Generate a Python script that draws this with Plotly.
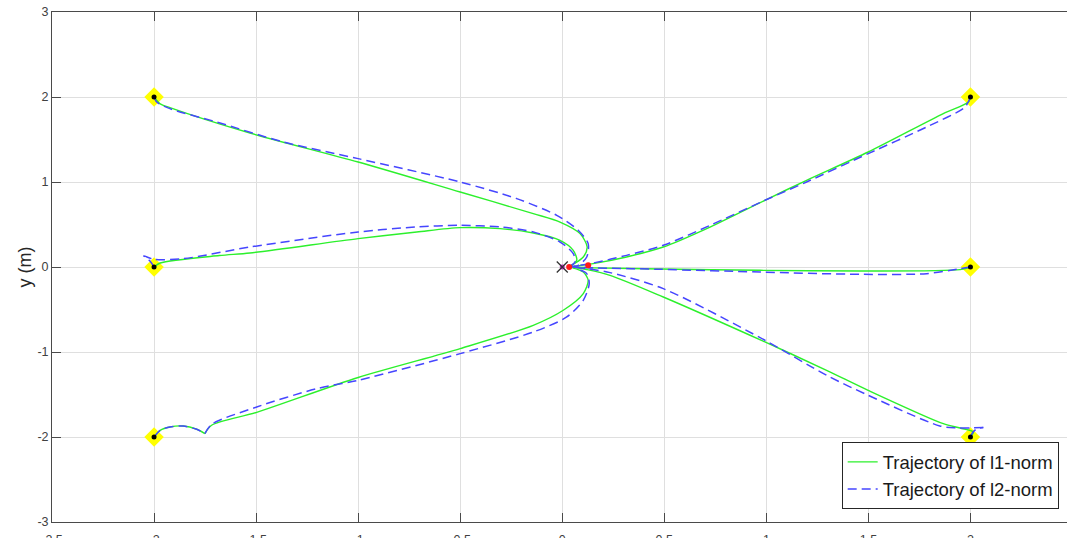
import plotly.graph_objects as go

# ---------------- data ----------------
# Agent A: starts at (-2, 2)
A_l1_x = [-2.0, -1.97, -1.922, -1.53, -1.0, -0.5, -0.142, -0.011, 0.087, 0.122, 0.103, 0.054, 0.034]
A_l1_y = [2.0, 1.92, 1.875, 1.576, 1.235, 0.882, 0.628, 0.529, 0.393, 0.235, 0.118, 0.032, 0.0]
A_l2_x = [-2.0, -1.987, -1.922, -1.693, -1.367, -1.0, -0.5, -0.223, -0.027, 0.078, 0.127, 0.12, 0.078, 0.034]
A_l2_y = [2.0, 1.941, 1.863, 1.706, 1.471, 1.275, 1.0, 0.804, 0.608, 0.432, 0.275, 0.118, 0.02, 0.0]

# Agent B: starts at (-2, 0)
B_l1_x = [-2.0, -1.97, -1.68, -1.53, -1.0, -0.713, -0.5, -0.305, -0.142, -0.011, 0.054, 0.071, 0.04]
B_l1_y = [0.0, 0.047, 0.135, 0.165, 0.334, 0.412, 0.463, 0.451, 0.4, 0.314, 0.196, 0.079, 0.01]
B_l2_x = [-2.0, -2.02, -2.05, -2.0, -1.857, -1.53, -1.0, -0.713, -0.5, -0.305, -0.142, -0.011, 0.054, 0.062, 0.04]
B_l2_y = [0.0, 0.07, 0.13, 0.09, 0.098, 0.235, 0.412, 0.471, 0.49, 0.471, 0.412, 0.294, 0.157, 0.059, 0.01]

# Agent C: starts at (-2, -2) (first arc shared, then a cusp)
C_arc_x = [-2.0, -1.97, -1.922, -1.857, -1.791, -1.751]
C_arc_y = [-2.0, -1.921, -1.882, -1.871, -1.909, -1.96]
C_l1_x = [-1.751, -1.718, -1.497, -1.0, -0.5, -0.142, 0.005, 0.103, 0.127, 0.103, 0.05]
C_l1_y = [-1.96, -1.862, -1.71, -1.30, -0.96, -0.686, -0.509, -0.313, -0.157, -0.059, -0.01]
C_l2_x = [-1.751, -1.718, -1.497, -1.203, -1.0, -0.5, -0.142, 0.022, 0.103, 0.132, 0.12, 0.07]
C_l2_y = [-1.96, -1.851, -1.647, -1.431, -1.333, -1.019, -0.765, -0.588, -0.392, -0.196, -0.078, -0.02]

# Agent D: starts at (2, 2)
D_l1_x = [2.0, 1.99, 1.867, 1.499, 1.197, 0.993, 0.724, 0.495, 0.315, 0.152, 0.05]
D_l1_y = [2.0, 1.94, 1.805, 1.353, 1.02, 0.785, 0.47, 0.235, 0.118, 0.04, 0.005]
D_l2_x = [2.0, 1.973, 1.785, 1.499, 1.197, 0.993, 0.724, 0.495, 0.315, 0.152, 0.05]
D_l2_y = [2.0, 1.882, 1.647, 1.334, 1.0, 0.785, 0.49, 0.255, 0.137, 0.047, 0.005]

# Agent E: starts at (2, 0)
E_l1_x = [2.0, 1.949, 1.459, 0.969, 0.479, 0.152, 0.05]
E_l1_y = [0.0, -0.031, -0.047, -0.039, -0.023, -0.01, 0.0]
E_l2_x = [2.0, 1.949, 1.785, 1.459, 0.969, 0.479, 0.152, 0.05]
E_l2_y = [0.0, -0.02, -0.078, -0.086, -0.059, -0.027, -0.01, 0.0]

# Agent F: starts at (2, -2)
F_l1_x = [2.0, 2.014, 1.949, 1.867, 1.499, 1.295, 0.993, 0.495, 0.234, 0.12, 0.05]
F_l1_y = [-2.0, -1.941, -1.894, -1.843, -1.451, -1.215, -0.882, -0.353, -0.098, -0.03, 0.0]
F_hook_x = [2.0, 2.01, 2.03, 2.063]
F_hook_y = [-2.0, -1.95, -1.905, -1.889]
F_l2_x = [2.063, 2.0, 1.93, 1.85, 1.499, 1.295, 0.993, 0.495, 0.234, 0.12, 0.05]
F_l2_y = [-1.889, -1.893, -1.893, -1.87, -1.509, -1.274, -0.862, -0.255, -0.066, -0.02, 0.0]

# start positions, goal and final points
start_x = [-2, -2, -2, 2, 2, 2]
start_y = [2, 0, -2, 2, 0, -2]
goal_x = [0]
goal_y = [0]
final_x = [0.034, 0.127]
final_y = [0.0, 0.02]

x_ticks = [-2.5, -2, -1.5, -1, -0.5, 0, 0.5, 1, 1.5, 2, 2.5]
x_ticklabels = ["-2.5", "-2", "-1.5", "-1", "-0.5", "0", "0.5", "1", "1.5", "2", "2.5"]
y_ticks = [-3, -2, -1, 0, 1, 2, 3]
y_ticklabels = ["-3", "-2", "-1", "0", "1", "2", "3"]


def join(*segs):
    xs, ys = [], []
    for sx, sy in segs:
        if xs:
            xs.append(None)
            ys.append(None)
        xs.extend(sx)
        ys.extend(sy)
    return xs, ys


l1_x, l1_y = join((A_l1_x, A_l1_y), (B_l1_x, B_l1_y), (C_arc_x, C_arc_y),
                  (C_l1_x, C_l1_y), (D_l1_x, D_l1_y), (E_l1_x, E_l1_y), (F_l1_x, F_l1_y))
l2_x, l2_y = join((A_l2_x, A_l2_y), (B_l2_x, B_l2_y), (C_arc_x, C_arc_y),
                  (C_l2_x, C_l2_y), (D_l2_x, D_l2_y), (E_l2_x, E_l2_y),
                  (F_hook_x, F_hook_y), (F_l2_x, F_l2_y))

FONT = "Liberation Sans, Arial, Helvetica, sans-serif"

fig = go.Figure()

fig.add_trace(go.Scatter(x=start_x, y=start_y, mode="markers",
                         marker=dict(symbol="diamond", size=15, color="#ffff00",
                                     line=dict(width=0, color="#ffff00")),
                         showlegend=False, hoverinfo="skip"))
fig.add_trace(go.Scatter(x=l1_x, y=l1_y, mode="lines", name="Trajectory of l1-norm",
                         line=dict(color="#2cf02c", width=1.4, shape="spline", smoothing=0.8)))
fig.add_trace(go.Scatter(x=l2_x, y=l2_y, mode="lines", name="Trajectory of l2-norm",
                         line=dict(color="#4646ff", width=1.5, dash="9px,5px",
                                   shape="spline", smoothing=0.8)))
fig.add_trace(go.Scatter(x=start_x, y=start_y, mode="markers",
                         marker=dict(symbol="circle", size=5, color="black"),
                         showlegend=False, hoverinfo="skip"))
fig.add_trace(go.Scatter(x=final_x, y=final_y, mode="markers",
                         marker=dict(symbol="circle", size=6, color="#ff1a1a"),
                         showlegend=False, hoverinfo="skip"))
fig.add_trace(go.Scatter(x=goal_x, y=goal_y, mode="markers",
                         marker=dict(symbol="circle", size=5, color="#cc22cc"),
                         showlegend=False, hoverinfo="skip"))
fig.add_trace(go.Scatter(x=goal_x, y=goal_y, mode="markers",
                         marker=dict(symbol="x-thin-open", size=11, color="#333333",
                                     line=dict(color="#333333", width=1.3)),
                         showlegend=False, hoverinfo="skip"))

axis_common = dict(
    showgrid=True, gridcolor="#dfdfdf", gridwidth=1,
    zeroline=False, showline=True, linecolor="#4a4a4a", linewidth=1,
    ticks="inside", ticklen=9, tickcolor="#4a4a4a", tickwidth=1,
    tickfont=dict(family=FONT, size=12.5, color="#404040"),
    automargin=False,
)

fig.update_layout(
    width=1067, height=538,
    margin=dict(l=52, r=0, t=12, b=16),
    plot_bgcolor="white", paper_bgcolor="white",
    font=dict(family=FONT),
    xaxis=dict(range=[-2.5, 2.473], tickvals=x_ticks, ticktext=x_ticklabels,
               mirror="ticks", ticklabelstandoff=6, **axis_common),
    yaxis=dict(range=[-3, 3], tickvals=y_ticks, ticktext=y_ticklabels,
               title=dict(text="y (m)", font=dict(family=FONT, size=18, color="#262626"),
                          standoff=1),
               **axis_common),
    legend=dict(x=0.9918, y=0.0249, xanchor="right", yanchor="bottom",
                bgcolor="white", bordercolor="#262626", borderwidth=1,
                font=dict(family=FONT, size=18.5, color="#1a1a1a"), tracegroupgap=0),
    showlegend=True,
)

fig.write_html("out.html")
